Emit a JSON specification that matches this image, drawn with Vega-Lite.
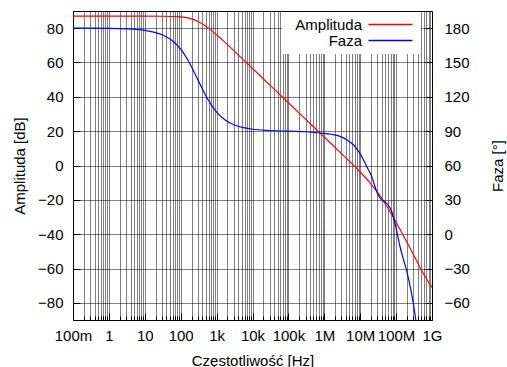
{
  "$schema": "https://vega.github.io/schema/vega-lite/v6.json",
  "width": 359,
  "height": 309,
  "autosize": {"type": "none"},
  "padding": {"left": 73, "top": 11, "right": 75, "bottom": 47},
  "background": "white",
  "config": {
    "view": {"stroke": "#000", "strokeWidth": 1},
    "font": "Liberation Sans",
    "axis": {
      "labelFont": "Liberation Sans",
      "labelFontSize": 15,
      "labelColor": "#000",
      "titleFont": "Liberation Sans",
      "titleFontSize": 15,
      "titleFontWeight": "normal",
      "titleColor": "#000",
      "domain": false,
      "ticks": true,
      "tickColor": "#000",
      "tickWidth": 1,
      "gridColor": "#000",
      "gridDash": [1, 1],
      "gridOpacity": 1,
      "labelOverlap": false,
      "labelFlush": false,
      "labelBound": false
    }
  },
  "datasets": {
    "amp": [
      {"f": 0.1, "dB": 87}, {"f": 1, "dB": 87}, {"f": 10, "dB": 87}, {"f": 31.62, "dB": 86.95},
      {"f": 100, "dB": 86.54}, {"f": 177.8, "dB": 85.7}, {"f": 316.2, "dB": 83.76}, {"f": 562.3, "dB": 80.46},
      {"f": 1000, "dB": 76.17}, {"f": 1778, "dB": 71.4}, {"f": 3162, "dB": 66.5}, {"f": 10000, "dB": 56.54},
      {"f": 31623, "dB": 46.54}, {"f": 100000, "dB": 36.54}, {"f": 316228, "dB": 26.54}, {"f": 1000000, "dB": 16.54},
      {"f": 3162278, "dB": 6.5}, {"f": 10000000, "dB": -3.8}, {"f": 17782794, "dB": -9.5}, {"f": 31622777, "dB": -16.1},
      {"f": 56234133, "dB": -24}, {"f": 100000000, "dB": -33.1}, {"f": 177827941, "dB": -42.7}, {"f": 316227766, "dB": -52.6},
      {"f": 562341325, "dB": -62.6}, {"f": 1000000000, "dB": -71}
    ],
    "phase": [
      {"f": 0.1, "deg": 180}, {"f": 1, "deg": 179.8}, {"f": 3.162, "deg": 179.4}, {"f": 10, "deg": 178.1},
      {"f": 17.78, "deg": 176.6}, {"f": 31.62, "deg": 174.0}, {"f": 56.23, "deg": 169.4}, {"f": 100, "deg": 161.6},
      {"f": 177.8, "deg": 149.3}, {"f": 316.2, "deg": 133.5}, {"f": 562.3, "deg": 118.1}, {"f": 1000, "deg": 106.7},
      {"f": 1778, "deg": 99.6}, {"f": 3162, "deg": 95.4}, {"f": 5623, "deg": 93.1}, {"f": 10000, "deg": 91.7},
      {"f": 31623, "deg": 90.6}, {"f": 100000, "deg": 90.0}, {"f": 316228, "deg": 89.5}, {"f": 758578, "deg": 88.4},
      {"f": 1584893, "deg": 87.3}, {"f": 2754229, "deg": 85.4}, {"f": 4466836, "deg": 82}, {"f": 6456542, "deg": 78.1},
      {"f": 8912509, "deg": 72.5}, {"f": 12302688, "deg": 65}, {"f": 15848932, "deg": 58}, {"f": 20892961, "deg": 50.4},
      {"f": 28840315, "deg": 37.2}, {"f": 33884416, "deg": 32.5}, {"f": 39810717, "deg": 30}, {"f": 50118723, "deg": 28},
      {"f": 60255959, "deg": 25.5}, {"f": 75857758, "deg": 19.6}, {"f": 93325430, "deg": 9.6}, {"f": 109647820, "deg": -0.7},
      {"f": 128824955, "deg": -11}, {"f": 158489319, "deg": -21.5}, {"f": 194984460, "deg": -31.4}, {"f": 251188643, "deg": -47},
      {"f": 301995172, "deg": -60.6}, {"f": 354813389, "deg": -75}, {"f": 398107171, "deg": -84}
    ]
  },
  "layer": [
    {
      "data": {"name": "amp"},
      "mark": {"type": "line", "strokeWidth": 1.2, "interpolate": "monotone", "clip": true},
      "encoding": {
        "x": {
          "field": "f", "type": "quantitative",
          "scale": {"type": "log", "domain": [0.1, 1000000000], "nice": false},
          "axis": {
            "orient": "bottom",
            "title": "Częstotliwość [Hz]",
            "values": [0.1,0.2,0.3,0.4,0.5,0.6,0.7,0.8,0.9,1,2,3,4,5,6,7,8,9,10,20,30,40,50,60,70,80,90,100,200,300,400,500,600,700,800,900,1000,2000,3000,4000,5000,6000,7000,8000,9000,10000,20000,30000,40000,50000,60000,70000,80000,90000,100000,200000,300000,400000,500000,600000,700000,800000,900000,1000000,2000000,3000000,4000000,5000000,6000000,7000000,8000000,9000000,10000000,20000000,30000000,40000000,50000000,60000000,70000000,80000000,90000000,100000000,200000000,300000000,400000000,500000000,600000000,700000000,800000000,900000000,1000000000],
            "labelExpr": "abs(log(datum.value)/LN10 - round(log(datum.value)/LN10)) < 0.000001 ? format(datum.value, '~s') : ''",
            "grid": true,
            "tickSize": {"condition": {"test": "abs(log(datum.value)/LN10 - round(log(datum.value)/LN10)) < 0.000001", "value": -7}, "value": -4},
            "labelPadding": 15,
            "titleY": 40,
            "titleBaseline": "middle"
          }
        },
        "y": {
          "field": "dB", "type": "quantitative",
          "scale": {"domain": [-90, 90], "nice": false, "zero": false},
          "axis": {
            "orient": "left",
            "title": "Amplituda [dB]",
            "values": [-80, -60, -40, -20, 0, 20, 40, 60, 80],
            "grid": true,
            "tickSize": -7,
            "labelPadding": 17,
            "titleX": -54,
            "titleBaseline": "middle"
          }
        },
        "color": {
          "datum": "Amplituda",
          "type": "nominal",
          "scale": {"domain": ["Amplituda", "Faza"], "range": ["#ff0000", "#0000ff"]},
          "legend": {
            "title": null,
            "orient": "none",
            "legendX": 209,
            "legendY": 1,
            "fillColor": "white",
            "padding": 5,
            "symbolType": "M-4.4,0H4.4",
            "symbolSize": 100,
            "symbolStrokeWidth": 1.5,
            "symbolOffset": 96,
            "labelAlign": "right",
            "labelOffset": -36,
            "labelFont": "Liberation Sans",
            "labelFontSize": 15,
            "labelColor": "#000",
            "rowPadding": 0
          }
        }
      }
    },
    {
      "data": {"name": "phase"},
      "mark": {"type": "line", "strokeWidth": 1.2, "interpolate": "monotone", "clip": true},
      "encoding": {
        "x": {"field": "f", "type": "quantitative"},
        "y": {
          "field": "deg", "type": "quantitative",
          "scale": {"domain": [-75, 195], "nice": false, "zero": false},
          "axis": {
            "orient": "right",
            "title": "Faza [°]",
            "titleAngle": 270,
            "values": [-60, -30, 0, 30, 60, 90, 120, 150, 180],
            "grid": false,
            "tickSize": -7,
            "labelPadding": 19,
            "titleX": 65,
            "titleBaseline": "middle"
          }
        },
        "color": {"datum": "Faza", "type": "nominal"}
      }
    }
  ],
  "resolve": {"scale": {"y": "independent"}}
}
